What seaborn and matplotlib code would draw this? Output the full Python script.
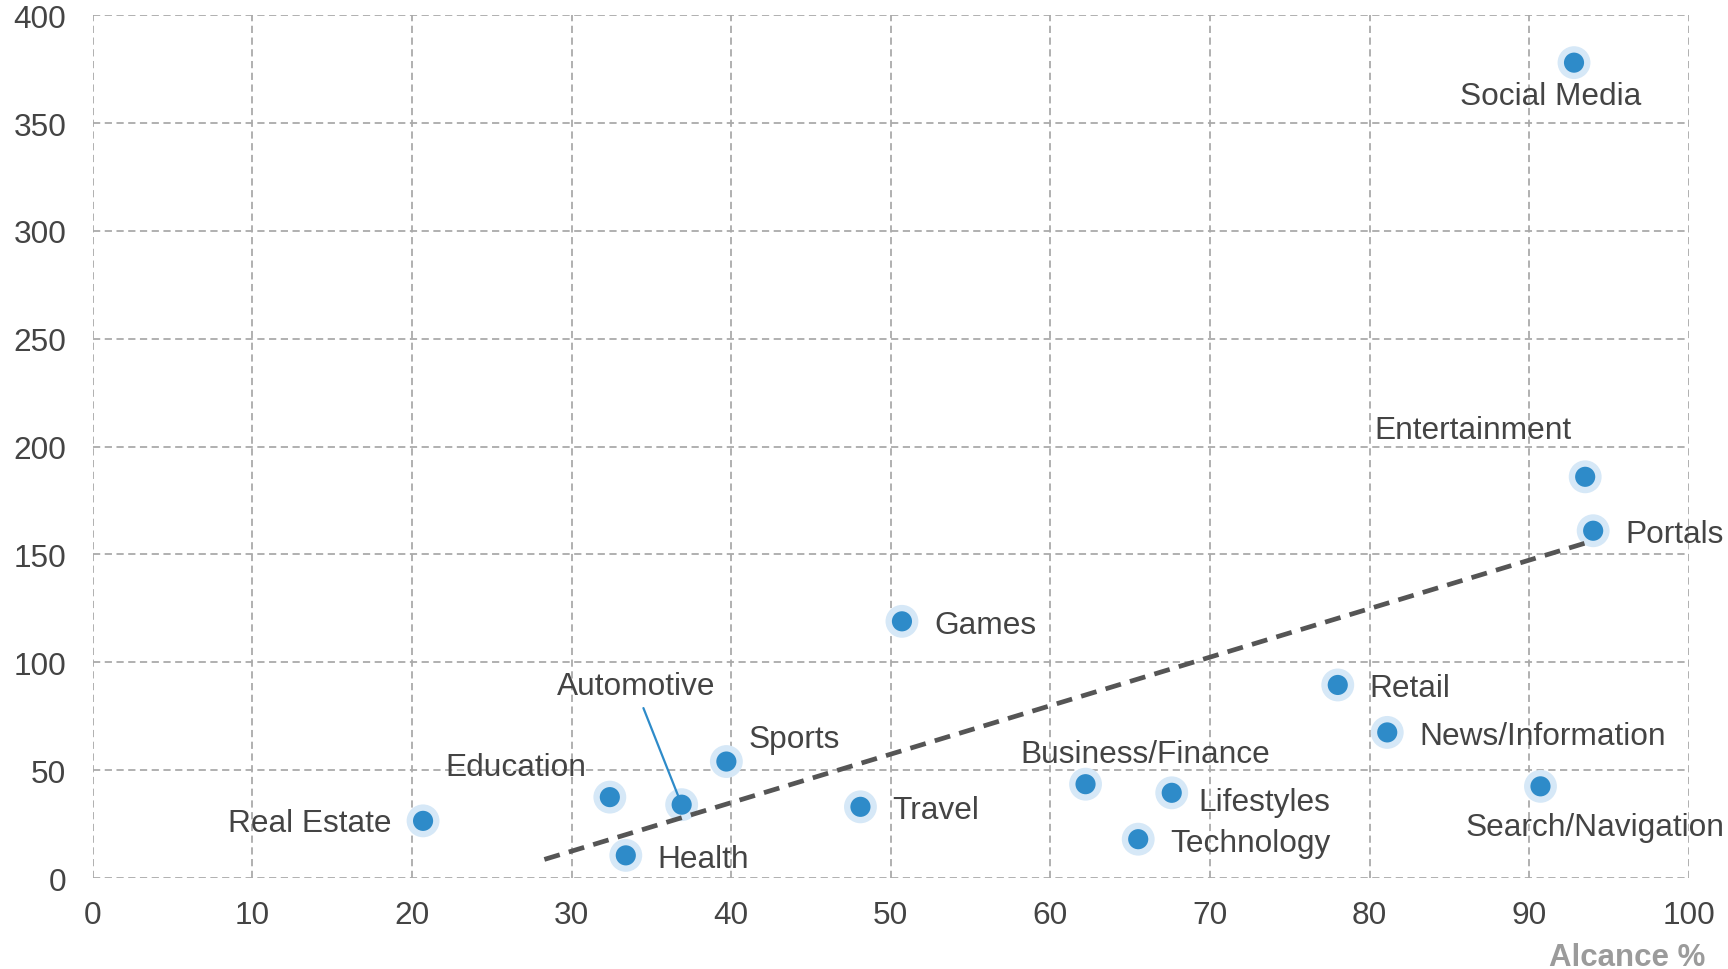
import numpy as np
import pandas as pd
import matplotlib
matplotlib.use("Agg")
import matplotlib.pyplot as plt
import seaborn as sns

# Categories and their reach (%) / index values
categories = ["Social Media", "Entertainment", "Portals", "Games", "Retail",
              "News/Information", "Search/Navigation", "Business/Finance",
              "Lifestyles", "Technology", "Travel", "Sports", "Automotive",
              "Education", "Health", "Real Estate"]
reach = [92.8, 93.5, 94.0, 50.7, 78.0, 81.1, 90.7, 62.2,
         67.6, 65.5, 48.1, 39.7, 36.9, 32.4, 33.4, 20.7]
index_value = [378, 186, 161, 119, 89.5, 67.5, 42.5, 43.5,
               39.5, 18, 33, 54, 34, 37.5, 10.5, 26.5]

x_ticks = list(range(0, 101, 10))
y_ticks = list(range(0, 401, 50))
x_label = "Alcance %"

df = pd.DataFrame({"category": categories, "reach": reach, "value": index_value})

sns.set_theme(style="white")
plt.rcParams["font.family"] = ["Liberation Sans", "DejaVu Sans"]

fig = plt.figure(figsize=(17.28, 9.70), dpi=100)
ax = fig.add_axes([0.0536, 0.0938, 0.9238, 0.8895])

text_color = "#444444"
dot_color = "#2E8BC9"
halo_color = "#D6E8F7"

# Light halo behind each dot, then the dot itself
sns.scatterplot(data=df, x="reach", y="value", ax=ax, s=560, color=halo_color,
                edgecolor="none", zorder=3, legend=False)
sns.scatterplot(data=df, x="reach", y="value", ax=ax, s=210, color=dot_color,
                edgecolor="none", zorder=4, legend=False)

# Linear trend over all categories
slope, intercept = np.polyfit(df["reach"], df["value"], 1)
trend_x = np.array([28.3, max(reach)])
ax.plot(trend_x, slope * trend_x + intercept, color="#555555", lw=3.4,
        ls=(0, (3.4, 2.0)), zorder=5, solid_capstyle="butt")

# Label placement: (dx, dy) in points and horizontal alignment
label_pos = {
    "Social Media": (-17, -24, "center"),
    "Entertainment": (-81, 34, "center"),
    "Portals": (23, -2.5, "left"),
    "Games": (23, -2.5, "left"),
    "Retail": (23, -2.5, "left"),
    "News/Information": (23, -2.5, "left"),
    "Search/Navigation": (39, -29.5, "center"),
    "Business/Finance": (43, 21.5, "center"),
    "Lifestyles": (19, -6.5, "left"),
    "Technology": (23, -2.5, "left"),
    "Travel": (23, -2.5, "left"),
    "Sports": (16, 16.5, "left"),
    "Education": (-68, 21.5, "center"),
    "Health": (23, -2.5, "left"),
    "Real Estate": (-23, -1.5, "right"),
}
for cat, xv, yv in zip(categories, reach, index_value):
    if cat == "Automotive":
        ax.annotate(cat, (xv, yv), xytext=(-33, 85.5), textcoords="offset points",
                    ha="center", va="center", fontsize=22.8, color=text_color,
                    zorder=6,
                    arrowprops=dict(arrowstyle="-", color=dot_color, lw=1.6,
                                    relpos=(0.53, 0.0), shrinkA=3, shrinkB=0))
        continue
    dx, dy, ha = label_pos[cat]
    ax.annotate(cat, (xv, yv), xytext=(dx, dy), textcoords="offset points",
                ha=ha, va="center", fontsize=22.8, color=text_color, zorder=6)

ax.set_xlim(0, 100)
ax.set_ylim(0, 400)
ax.set_xticks(x_ticks)
ax.set_yticks(y_ticks)
ax.set_xlabel("")
ax.set_ylabel("")
ax.tick_params(axis="both", length=0, labelsize=22.8, labelcolor=text_color)
ax.tick_params(axis="x", pad=16)
ax.tick_params(axis="y", pad=19)
ax.grid(True, color="#AAAAAA", ls=(0, (4, 2.5)), lw=1.3)
ax.set_axisbelow(True)
for sp in ax.spines.values():
    sp.set_visible(False)

ax.text(1.010, -0.092, x_label, transform=ax.transAxes, ha="right", va="center",
        fontsize=22.5, fontweight="bold", color="#9B9B9B")

fig.savefig("out.png", dpi=100)
